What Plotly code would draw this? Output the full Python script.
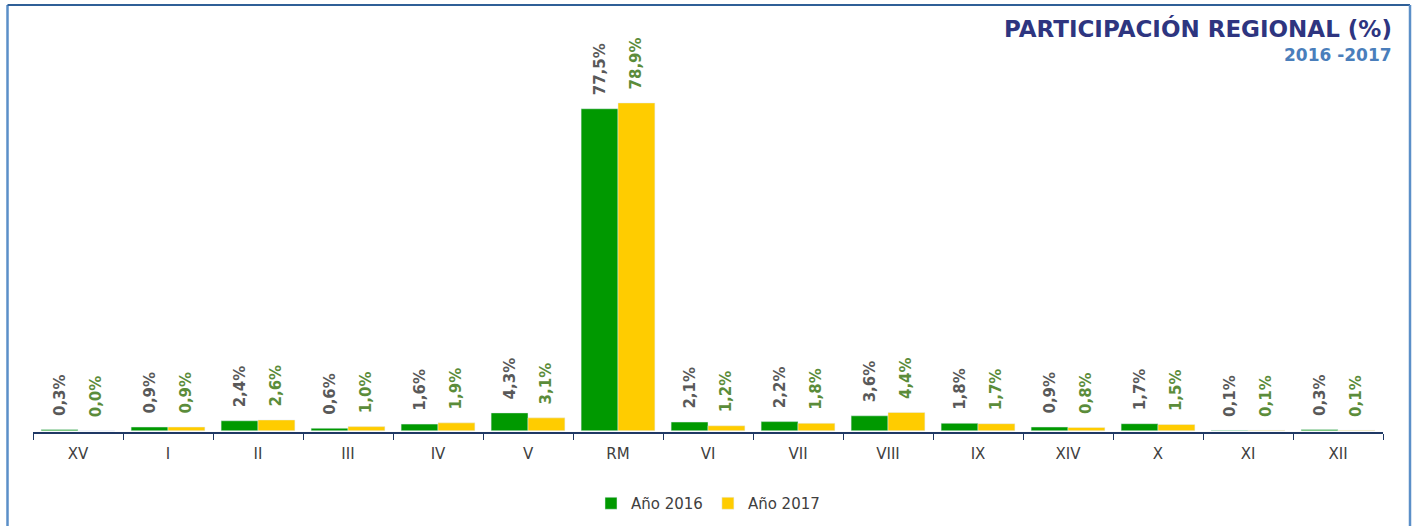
import plotly.graph_objects as go

regions = ["XV", "I", "II", "III", "IV", "V", "RM", "VI", "VII", "VIII", "IX", "XIV", "X", "XI", "XII"]
year2016 = [0.3, 0.9, 2.4, 0.6, 1.6, 4.3, 77.5, 2.1, 2.2, 3.6, 1.8, 0.9, 1.7, 0.1, 0.3]
year2017 = [0.0, 0.9, 2.6, 1.0, 1.9, 3.1, 78.9, 1.2, 1.8, 4.4, 1.7, 0.8, 1.5, 0.1, 0.1]

def fmt(v):
    return "  " + f"{v:.1f}".replace(".", ",") + "%"

FONT = "DejaVu Sans"

fig = go.Figure()
fig.add_trace(go.Bar(
    x=regions, y=year2016, name="Año 2016", marker_color="#009900",
    text=[fmt(v) for v in year2016], textposition="outside", textangle=-90,
    constraintext="none",
    textfont=dict(family=FONT, size=15, color="#595959", weight="bold"),
    cliponaxis=False,
))
fig.add_trace(go.Bar(
    x=regions, y=year2017, name="Año 2017", marker_color="#FFCC00",
    text=[fmt(v) for v in year2017], textposition="outside", textangle=-90,
    constraintext="none",
    textfont=dict(family=FONT, size=15, color="#5B8C3A", weight="bold"),
    cliponaxis=False,
))

L, R, T, B = 33, 33, 60, 94
W, H = 1416, 526
pw, ph = W - L - R, H - T - B

def px(x):
    return (x - L) / pw

def py(y):
    return (H - B - y) / ph

shapes = [
    dict(type="line", xref="paper", yref="paper", x0=px(7.5), x1=px(7.5), y0=py(5), y1=py(540), line=dict(color="#5B8FC8", width=2.5)),
    dict(type="line", xref="paper", yref="paper", x0=px(7.5), x1=px(1410), y0=py(5), y1=py(5), line=dict(color="#2F5F97", width=2)),
    dict(type="line", xref="paper", yref="paper", x0=px(1410), x1=px(1410), y0=py(5), y1=py(540), line=dict(color="#5B8FC8", width=2.5)),
]

annotations = [
    dict(text="<b>PARTICIPACIÓN REGIONAL (%)</b>", xref="paper", yref="paper", x=px(1394), y=py(13),
         xanchor="right", yanchor="top", showarrow=False,
         font=dict(family=FONT, size=23, color="#2E3580")),
    dict(text="<b>2016 -2017</b>", xref="paper", yref="paper", x=px(1394), y=py(43),
         xanchor="right", yanchor="top", showarrow=False,
         font=dict(family=FONT, size=17, color="#4A7EBB")),
]

scale = 4.155
ymin = -0.3

fig.update_layout(
    width=W, height=H,
    margin=dict(l=L, r=R, t=T, b=B, autoexpand=False),
    plot_bgcolor="white", paper_bgcolor="white",
    barmode="group", bargap=0.18, bargroupgap=0,
    font=dict(family=FONT, color="#404040"),
    showlegend=True,
    legend=dict(orientation="h", x=0.5, xanchor="center", xref="container",
                y=(H - 487) / H, yanchor="top", yref="container",
                font=dict(family=FONT, size=15, color="#404040"), itemwidth=30, traceorder="normal"),
    shapes=shapes,
    annotations=annotations,
    xaxis=dict(showline=True, linecolor="#1F3864", linewidth=1.5, ticks="outside", tickson="boundaries",
               ticklen=6, tickcolor="#1F3864", tickfont=dict(family=FONT, size=15, color="#404040"),
               ticklabelstandoff=7, showgrid=False, fixedrange=True, automargin=False),
    yaxis=dict(range=[ymin, ymin + ph / scale], visible=False, showgrid=False, fixedrange=True),
)

fig.write_html("out.html", config={"displayModeBar": False},
               post_script="document.body.style.margin='0';")
